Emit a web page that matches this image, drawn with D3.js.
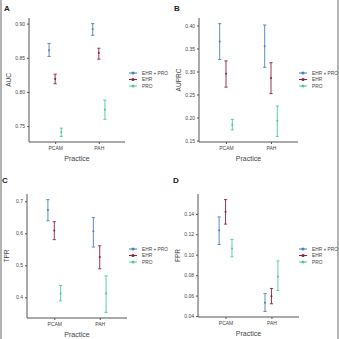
<!DOCTYPE html>
<html><head><meta charset="utf-8">
<script src="https://cdn.jsdelivr.net/npm/d3@7"></script>
<style>body{margin:0;background:#fff}svg{display:block}</style>
</head><body>
<svg id="c" width="339" height="339"></svg>
<script>
const practices = ["PCAM", "PAH"];
const models = ["EHR + PRO", "EHR", "PRO"];
const colors = ["#4a80c0", "#8e1f3f", "#4cc9a2"];

// [PCAM, PAH] per model: estimate, lower, upper
const aucEst = [[0.861, 0.892], [0.819, 0.857], [0.741, 0.774]];
const aucLo  = [[0.852, 0.883], [0.812, 0.848], [0.735, 0.760]];
const aucHi  = [[0.871, 0.900], [0.826, 0.864], [0.747, 0.788]];

const auprcEst = [[0.365, 0.355], [0.295, 0.286], [0.184, 0.193]];
const auprcLo  = [[0.326, 0.309], [0.266, 0.252], [0.173, 0.159]];
const auprcHi  = [[0.404, 0.401], [0.323, 0.319], [0.196, 0.225]];

const tprEst = [[0.673, 0.606], [0.609, 0.526], [0.412, 0.412]];
const tprLo  = [[0.639, 0.557], [0.580, 0.489], [0.389, 0.353]];
const tprHi  = [[0.705, 0.649], [0.636, 0.561], [0.437, 0.467]];

const fprEst = [[0.124, 0.053], [0.142, 0.0594], [0.106, 0.0787]];
const fprLo  = [[0.110, 0.0445], [0.130, 0.052], [0.098, 0.065]];
const fprHi  = [[0.137, 0.062], [0.154, 0.067], [0.115, 0.094]];

const aucTicks = [0.75, 0.80, 0.85, 0.90];
const auprcTicks = [0.15, 0.20, 0.25, 0.30, 0.35, 0.40];
const tprTicks = [0.4, 0.5, 0.6, 0.7];
const fprTicks = [0.04, 0.06, 0.08, 0.10, 0.12, 0.14];

const panels = [
  {tag:"A", ylab:"AUC", est:aucEst, lo:aucLo, hi:aucHi, ticks:aucTicks, fmt:d3.format(".2f"), x0:29, x1:125, y0:18, y1:142, lx:133, ly:73, ty:11},
  {tag:"B", ylab:"AUPRC", est:auprcEst, lo:auprcLo, hi:auprcHi, ticks:auprcTicks, fmt:d3.format(".2f"), x0:199, x1:298, y0:18, y1:142, lx:303, ly:73, ty:11},
  {tag:"C", ylab:"TPR", est:tprEst, lo:tprLo, hi:tprHi, ticks:tprTicks, fmt:d3.format(".1f"), x0:27, x1:127, y0:194, y1:318, lx:133, ly:249, ty:183},
  {tag:"D", ylab:"FPR", est:fprEst, lo:fprLo, hi:fprHi, ticks:fprTicks, fmt:d3.format(".2f"), x0:198, x1:299, y0:194, y1:317, lx:303, ly:249, ty:183}
];

const svg = d3.select("#c");
const axisCol = "#555";
const font = "Liberation Sans, Arial, sans-serif";

// outer border lines
svg.append("line").attr("x1",1).attr("x2",1).attr("y1",0).attr("y2",339).attr("stroke","#9a9a9a").attr("stroke-width",1.5);
svg.append("line").attr("x1",338).attr("x2",338).attr("y1",0).attr("y2",339).attr("stroke","#9a9a9a").attr("stroke-width",1.5);

panels.forEach(p => {
  const g = svg.append("g");
  const all = p.lo.flat().concat(p.hi.flat());
  const mn = d3.min(all), mx = d3.max(all), pad = (mx - mn) * 0.05;
  const y = d3.scaleLinear().domain([mn - pad, mx + pad]).range([p.y1, p.y0]);
  const x = d3.scalePoint().domain(practices).range([p.x0, p.x1]).padding(0.6);
  const dodge = x.step() * 0.14;

  g.append("text").attr("x", p.x0 - 25).attr("y", p.ty).text(p.tag)
    .attr("font-family", font).attr("font-weight", "bold").attr("font-size", 8).attr("fill", "#222");

  const ya = g.append("g").attr("transform", `translate(${p.x0},0)`)
    .call(d3.axisLeft(y).tickValues(p.ticks).tickFormat(p.fmt).tickSize(2).tickPadding(2));
  ya.select(".domain").attr("stroke", axisCol).attr("stroke-width", 1).attr("d", `M0,${p.y0}V${p.y1}`);
  ya.selectAll(".tick line").attr("stroke", axisCol);
  ya.selectAll("text").attr("font-family", font).attr("font-size", 5).attr("fill", "#444");

  const xa = g.append("g").attr("transform", `translate(0,${p.y1})`)
    .call(d3.axisBottom(x).tickSize(2).tickPadding(2));
  xa.select(".domain").attr("stroke", axisCol).attr("stroke-width", 1).attr("d", `M${p.x0},0H${p.x1}`);
  xa.selectAll(".tick line").attr("stroke", axisCol);
  xa.selectAll("text").attr("font-family", font).attr("font-size", 5).attr("fill", "#444");

  g.append("text").attr("x", (p.x0 + p.x1) / 2).attr("y", p.y1 + 19).attr("text-anchor", "middle")
    .text("Practice").attr("font-family", font).attr("font-size", 7).attr("fill", "#444");
  g.append("text").attr("transform", `translate(${p.x0 - 18},${(p.y0 + p.y1) / 2}) rotate(-90)`)
    .attr("text-anchor", "middle").text(p.ylab).attr("font-family", font).attr("font-size", 6.5).attr("fill", "#444");

  models.forEach((m, mi) => {
    practices.forEach((pr, pi) => {
      const cx = x(pr) + (mi - 1) * dodge;
      const col = colors[mi];
      g.append("line").attr("x1", cx).attr("x2", cx).attr("y1", y(p.lo[mi][pi])).attr("y2", y(p.hi[mi][pi]))
        .attr("stroke", col).attr("stroke-width", 0.9);
      [p.lo[mi][pi], p.hi[mi][pi]].forEach(v => {
        g.append("line").attr("x1", cx - 1.6).attr("x2", cx + 1.6).attr("y1", y(v)).attr("y2", y(v))
          .attr("stroke", col).attr("stroke-width", 0.9);
      });
      g.append("circle").attr("cx", cx).attr("cy", y(p.est[mi][pi])).attr("r", 1).attr("fill", col);
    });
  });

  // legend
  models.forEach((m, mi) => {
    const ly = p.ly + mi * 6.5;
    g.append("line").attr("x1", p.lx - 4).attr("x2", p.lx + 4).attr("y1", ly).attr("y2", ly)
      .attr("stroke", colors[mi]).attr("stroke-width", 1);
    g.append("circle").attr("cx", p.lx).attr("cy", ly).attr("r", 1.6).attr("fill", colors[mi]);
    g.append("text").attr("x", p.lx + 9).attr("y", ly + 1.7).text(m)
      .attr("font-family", font).attr("font-size", 4.8).attr("fill", "#444");
  });
});
</script>
</body></html>
